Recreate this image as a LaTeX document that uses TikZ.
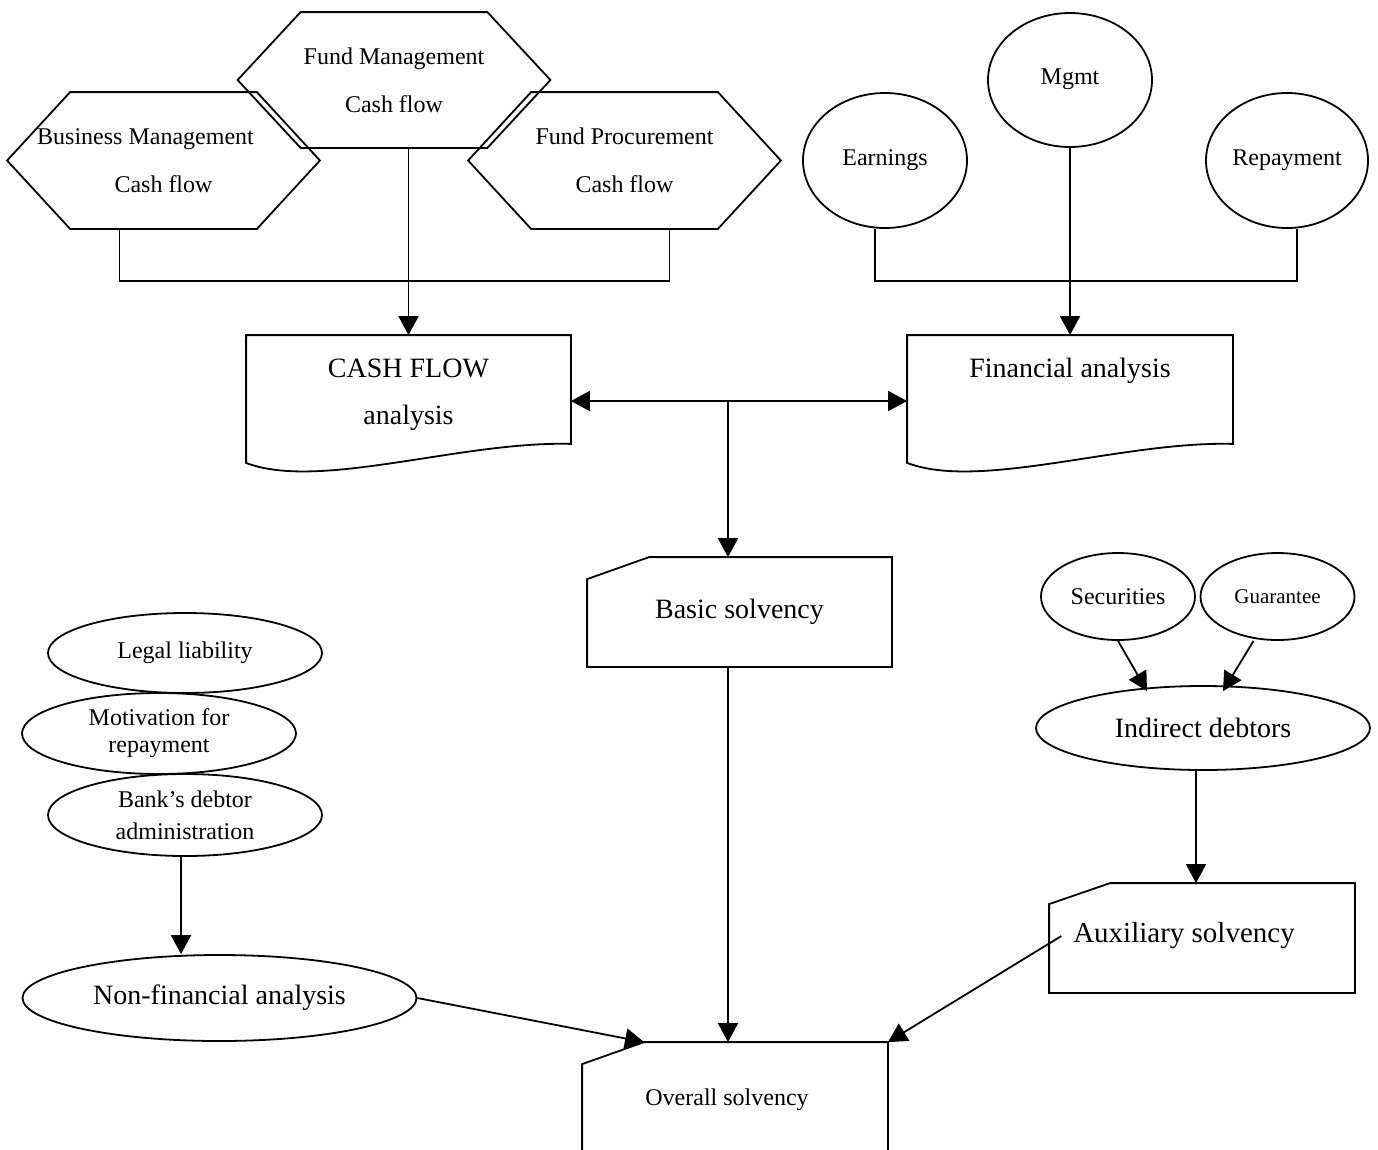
\documentclass[tikz,border=0pt]{standalone}
\usepackage{fontspec}
\setmainfont{Liberation Serif}
\usetikzlibrary{arrows.meta,shapes.geometric,calc}

% outline of a flat hexagon drawn on a rectangular node
\newcommand\hexout[2]{\draw (#1.west) -- ([xshift=#2]#1.north west) -- ([xshift=-#2]#1.north east)
  -- (#1.east) -- ([xshift=-#2]#1.south east) -- ([xshift=#2]#1.south west) -- cycle;}
% outline of a card with its top-left corner cut off
\newcommand\cardout[3]{\draw ([yshift=-#3]#1.north west) -- ([xshift=#2]#1.north west)
  -- (#1.north east) -- (#1.south east) -- (#1.south west) -- cycle;}
% outline of a document with a wavy bottom edge
\newcommand\docout[1]{\draw (#1.south west) .. controls +(73,28) and +(-110,-3) .. ([yshift=19pt]#1.south east)
  -- (#1.north east) -- (#1.north west) -- cycle;}

\begin{document}
\begin{tikzpicture}[x=1pt,y=-1pt,line width=1.8pt,
  every node/.style={inner sep=0pt,align=center},
  area/.style 2 args={minimum width=#1pt,minimum height=#2pt},
  oval/.style 2 args={ellipse,draw,minimum width=#1pt,minimum height=#2pt},
  fs/.style={font=\fontsize{#1}{#1}\selectfont},
  hextext/.style={font=\fontsize{24}{48}\selectfont},
  conn/.style={line width=1.8pt},
  arr/.style={conn,-{Triangle[length=19pt,width=20pt]}},
  darr/.style={conn,{Triangle[length=19pt,width=20pt]}-{Triangle[length=19pt,width=20pt]}}]

\useasboundingbox (0,0) rectangle (1378,1149);
\clip (0,0) rectangle (1378,1149);

% cash-flow sources
\node[area={311}{135},hextext] (BM) at (163.5,160.5) {Business Management\hspace*{36pt}\\Cash flow};
\node[area={311}{134},hextext] (FM) at (394,80) {Fund Management\\Cash flow};
\node[area={311}{135},hextext] (FP) at (624.5,160.5) {Fund Procurement\\Cash flow};
\hexout{BM}{63pt}
\hexout{FM}{63pt}
\hexout{FP}{63pt}

% financial factors
\node[oval={164}{135},fs=24] (E) at (885,160.5) {\raisebox{6pt}{Earnings}};
\node[oval={164}{134},fs=24] (M) at (1070,80) {\raisebox{7pt}{Mgmt}};
\node[oval={162}{135},fs=24] (R) at (1287,160.5) {Repayment};

% analysis documents
\node[area={323}{126}] (CF) at (408.5,399) {};
\node[area={324}{126}] (FA) at (1070,399) {};
\docout{CF}
\docout{FA}
\node[fs=28,font=\fontsize{28}{47}\selectfont] (CFt) at (408.5,395) {CASH FLOW\\analysis};
\node[fs=28] (FAt) at (1070,371) {Financial analysis};

% solvency cards
\node[area={303}{108},fs=28] (BS) at (739.5,612) {Basic solvency};
\node[area={304}{108}] (AX) at (1202,938) {};
\node[area={304}{130}] (OV) at (735,1108) {};
\cardout{BS}{62pt}{22pt}
\cardout{AX}{61pt}{21pt}
\cardout{OV}{62pt}{22pt}
\node[font=\fontsize{29}{29}\selectfont] (AXt) at (1184,936) {Auxiliary solvency};
\node[fs=24] (OVt) at (727,1100) {Overall solvency};
\coordinate (ovc) at ([xshift=62pt]OV.north west);

% collateral
\node[oval={154}{87},fs=24] (SE) at (1118,596.5) {Securities};
\node[oval={154}{87},fs=21] (GU) at (1277.5,596.5) {Guarantee};
\node[oval={334}{84},fs=28] (ID) at (1203,728) {Indirect debtors};

% non-financial factors
\node[oval={274}{80},fs=24] (LL) at (185,653) {\raisebox{5pt}{Legal liability}};
\node[oval={274}{81},font=\fontsize{24}{27}\selectfont] (MO) at (159,733.5) {Motivation for\\repayment};
\node[oval={274}{82},font=\fontsize{24}{32}\selectfont] (BK) at (185,815) {Bank’s debtor\\administration};
\node[oval={394}{86},fs=28] (NF) at (219.5,998) {Non-financial analysis};

% connectors
\draw[conn] ([xshift=-44pt]BM.south) -- ++(0,52) -| ([xshift=45pt]FP.south);
\draw[arr] (CF.north |- FM.south) -- (CF.north);
\draw[conn] ([xshift=-10pt]E.south) -- ++(0,52) -| ([xshift=10pt]R.south);
\draw[arr] (M.south) -- (M.south |- FA.north);

\coordinate (junc) at (728,401);
\draw[darr] (CF.east |- junc) -- (FA.west |- junc);
\draw[arr] (junc) -- (junc |- BS.north);
\draw[arr] (junc |- BS.south) -- (junc |- OV.north);

\draw[arr] (SE.south) -- ([xshift=-56pt,yshift=-6pt]ID.north);
\draw[arr] ([xshift=-24pt]GU.south) -- ([xshift=20pt,yshift=-6pt]ID.north);
\draw[arr] ([xshift=-7pt]ID.south) -- ([xshift=-7pt]ID.south |- AX.north);
\draw[arr] ([xshift=-11pt]AXt.west) -- (OV.north east);

\draw[arr] ([xshift=-4pt]BK.south) -- ([xshift=-4pt]BK.south |- NF.north);
\draw[arr] (NF.east) -- (ovc);
\end{tikzpicture}
\end{document}
